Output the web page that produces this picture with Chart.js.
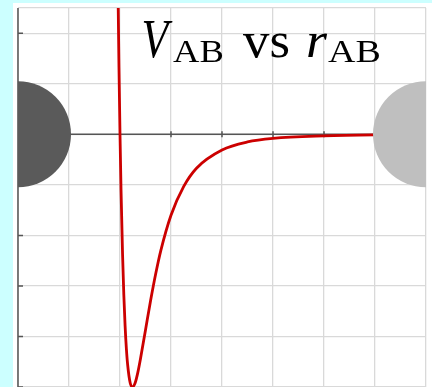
<!DOCTYPE html>
<html>
<head>
<meta charset="utf-8">
<script src="https://cdn.jsdelivr.net/npm/chart.js@4/dist/chart.umd.min.js"></script>
<style>
  html, body { margin: 0; padding: 0; background: #ccffff; }
  #wrap { position: absolute; left: 13px; top: 3px; width: 419px; height: 384px; background: #fff; }
</style>
</head>
<body>
<div id="wrap"><canvas id="myChart" width="419" height="384"></canvas></div>
<script>
// separation r_AB and potential V_AB
var rValues = [1.94, 1.96, 1.98, 2.0, 2.02, 2.05, 2.075, 2.1, 2.125, 2.15, 2.2, 2.245, 2.3, 2.35, 2.4, 2.5, 2.6, 2.7, 2.8, 3.0, 3.25, 3.5, 4.0, 4.5, 5.0, 6.0, 7.0, 8.0];
var vValues = [4.8, 2.91, 1.32, 0, -1.09, -2.37, -3.18, -3.79, -4.24, -4.56, -4.92, -5.0, -4.91, -4.71, -4.45, -3.87, -3.29, -2.76, -2.30, -1.60, -1.03, -0.67, -0.31, -0.15, -0.08, -0.03, -0.01, -0.005];

// the two atoms: A fixed at the origin, B at the far end of the axis
var atomA = [{x: 0, y: 0}];
var atomB = [{x: 8, y: 0}];

var xTicks = [1, 2, 3, 4, 5, 6, 7];
var yTicks = [2, 1, -1, -2, -3, -4, -5];

var curve = [];
for (var i = 0; i < rValues.length; i++) {
	curve.push({x: rValues[i], y: vValues[i]});
}

// axis lines with small tick marks, drawn through the scales
var axesPlugin = {
	id: 'axes',
	beforeDatasetsDraw: function(chart) {
		var ctx = chart.ctx;
		var xs = chart.scales.x, ys = chart.scales.y;
		var area = chart.chartArea;
		var y0 = ys.getPixelForValue(0);
		var x0 = xs.getPixelForValue(0);
		ctx.save();
		ctx.strokeStyle = '#555';
		ctx.lineWidth = 1.5;
		ctx.beginPath();
		ctx.moveTo(area.left, y0);
		ctx.lineTo(area.right, y0);
		ctx.moveTo(x0, area.top);
		ctx.lineTo(x0, area.bottom);
		xTicks.forEach(function(v) {
			var px = xs.getPixelForValue(v);
			ctx.moveTo(px, y0 - 3);
			ctx.lineTo(px, y0 + 3);
		});
		yTicks.forEach(function(v) {
			var py = ys.getPixelForValue(v);
			ctx.moveTo(x0, py);
			ctx.lineTo(x0 + 5, py);
		});
		ctx.stroke();
		ctx.restore();
	}
};

function drawPiece(ctx, text, font, left, baseline, width) {
	ctx.font = font;
	var m = ctx.measureText(text);
	var inkW = m.actualBoundingBoxLeft + m.actualBoundingBoxRight;
	var sx = width / inkW;
	ctx.save();
	ctx.translate(left, baseline);
	ctx.scale(sx, 1);
	ctx.fillText(text, m.actualBoundingBoxLeft, 0);
	ctx.restore();
}

var titlePlugin = {
	id: 'mathTitle',
	afterDatasetsDraw: function(chart) {
		var ctx = chart.ctx;
		ctx.save();
		ctx.fillStyle = '#000';
		ctx.textBaseline = 'alphabetic';
		ctx.textAlign = 'left';
		drawPiece(ctx, 'V', 'italic 54px "Liberation Serif"', 130, 54, 30);
		drawPiece(ctx, 'AB', '31px "Liberation Serif"', 160, 59, 50);
		drawPiece(ctx, 'vs', '51px "Liberation Serif"', 230, 54, 45);
		drawPiece(ctx, 'r', 'italic 51px "Liberation Serif"', 295, 54, 19);
		drawPiece(ctx, 'AB', '31px "Liberation Serif"', 315, 59, 52);
		ctx.restore();
	}
};

var ctx = document.getElementById('myChart').getContext('2d');
var myChart = new Chart(ctx, {
	type: 'scatter',
	data: {
		datasets: [
			{
				label: 'A',
				data: atomA,
				pointRadius: 53,
				pointHoverRadius: 53,
				pointBackgroundColor: '#5a5a5a',
				pointBorderWidth: 0,
				order: 0
			},
			{
				label: 'B',
				data: atomB,
				pointRadius: 53,
				pointHoverRadius: 53,
				pointBackgroundColor: '#bfbfbf',
				pointBorderWidth: 0,
				order: 1
			},
			{
				label: 'V_AB',
				type: 'line',
				data: curve,
				showLine: true,
				borderColor: '#cc0000',
				borderWidth: 2.8,
				pointRadius: 0,
				fill: false,
				cubicInterpolationMode: 'monotone',
				order: 2
			}
		]
	},
	options: {
		responsive: false,
		animation: false,
		devicePixelRatio: 1,
		layout: { autoPadding: false, padding: { left: 5, right: 6, top: 5, bottom: 0 } },
		plugins: {
			legend: { display: false },
			tooltip: { enabled: false }
		},
		events: [],
		scales: {
			x: {
				type: 'linear',
				min: 0,
				max: 8,
				ticks: { display: false, stepSize: 1 },
				grid: { drawTicks: false, color: '#d9d9d9', lineWidth: 1.3 },
				border: { display: false }
			},
			y: {
				type: 'linear',
				min: -5,
				max: 2.5,
				ticks: { display: false, stepSize: 1 },
				grid: { drawTicks: false, color: '#d9d9d9', lineWidth: 1.3 },
				border: { display: false }
			}
		}
	},
	plugins: [axesPlugin, titlePlugin]
});
</script>
</body>
</html>
